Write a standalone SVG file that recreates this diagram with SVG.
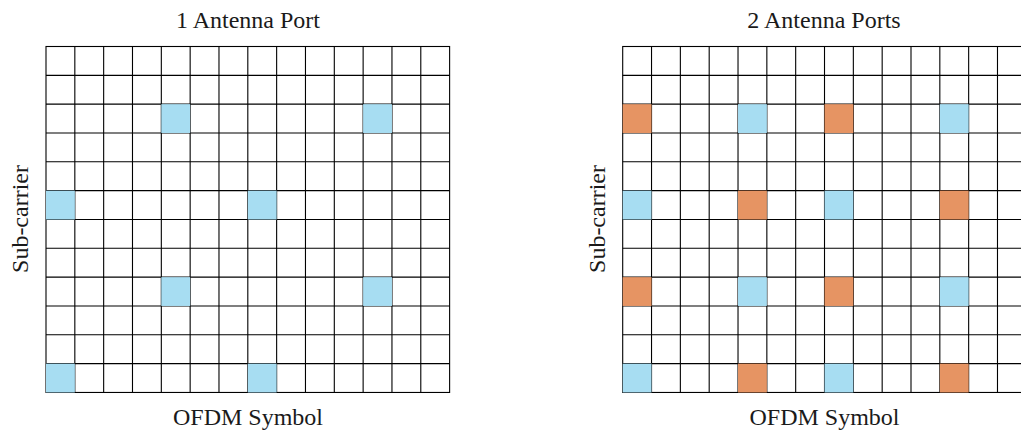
<svg xmlns="http://www.w3.org/2000/svg" xmlns:xlink="http://www.w3.org/1999/xlink" width="1021" height="430" viewBox="0 0 1021 430">
<style>
.lbl{font-family:"Liberation Serif","DejaVu Serif",serif;font-size:24px;fill:#1a1a1a;text-anchor:middle}
.gl{stroke:#000;stroke-width:1.1;fill:none}
.b{fill:#a7ddf2}
.o{fill:#e69463}
</style>
<defs>
<g id="grid">
<rect class="gl" x="0" y="0" width="403.62" height="345.96"/>
<path class="gl" d="M28.83 0V345.96M57.66 0V345.96M86.49 0V345.96M115.32 0V345.96M144.15 0V345.96M172.98 0V345.96M201.81 0V345.96M230.64 0V345.96M259.47 0V345.96M288.3 0V345.96M317.13 0V345.96M345.96 0V345.96M374.79 0V345.96M0 28.83H403.62M0 57.66H403.62M0 86.49H403.62M0 115.32H403.62M0 144.15H403.62M0 172.98H403.62M0 201.81H403.62M0 230.64H403.62M0 259.47H403.62M0 288.3H403.62M0 317.13H403.62"/>
</g>
</defs>
<rect width="1021" height="430" fill="#fff"/>
<g id="panel-1">
<text class="lbl" x="248" y="28">1 Antenna Port</text>
<use xlink:href="#grid" href="#grid" transform="translate(46,46.5)"/>
<g transform="translate(46,46.5)">
<rect class="b" x="115.32" y="57.66" width="28.83" height="28.83"/>
<rect class="b" x="317.13" y="57.66" width="28.83" height="28.83"/>
<rect class="b" x="0" y="144.15" width="28.83" height="28.83"/>
<rect class="b" x="201.81" y="144.15" width="28.83" height="28.83"/>
<rect class="b" x="115.32" y="230.64" width="28.83" height="28.83"/>
<rect class="b" x="317.13" y="230.64" width="28.83" height="28.83"/>
<rect class="b" x="0" y="317.13" width="28.83" height="28.83"/>
<rect class="b" x="201.81" y="317.13" width="28.83" height="28.83"/>
</g>
<text class="lbl" x="248" y="425">OFDM Symbol</text>
<text class="lbl" transform="translate(28,219) rotate(-90)">Sub-carrier</text>
</g>
<g id="panel-2">
<text class="lbl" x="824" y="28">2 Antenna Ports</text>
<use xlink:href="#grid" href="#grid" transform="translate(622.7,46.5)"/>
<g transform="translate(622.7,46.5)">
<rect class="o" x="0" y="57.66" width="28.83" height="28.83"/>
<rect class="b" x="115.32" y="57.66" width="28.83" height="28.83"/>
<rect class="o" x="201.81" y="57.66" width="28.83" height="28.83"/>
<rect class="b" x="317.13" y="57.66" width="28.83" height="28.83"/>
<rect class="b" x="0" y="144.15" width="28.83" height="28.83"/>
<rect class="o" x="115.32" y="144.15" width="28.83" height="28.83"/>
<rect class="b" x="201.81" y="144.15" width="28.83" height="28.83"/>
<rect class="o" x="317.13" y="144.15" width="28.83" height="28.83"/>
<rect class="o" x="0" y="230.64" width="28.83" height="28.83"/>
<rect class="b" x="115.32" y="230.64" width="28.83" height="28.83"/>
<rect class="o" x="201.81" y="230.64" width="28.83" height="28.83"/>
<rect class="b" x="317.13" y="230.64" width="28.83" height="28.83"/>
<rect class="b" x="0" y="317.13" width="28.83" height="28.83"/>
<rect class="o" x="115.32" y="317.13" width="28.83" height="28.83"/>
<rect class="b" x="201.81" y="317.13" width="28.83" height="28.83"/>
<rect class="o" x="317.13" y="317.13" width="28.83" height="28.83"/>
</g>
<text class="lbl" x="824.5" y="425">OFDM Symbol</text>
<text class="lbl" transform="translate(604.5,219) rotate(-90)">Sub-carrier</text>
</g>
</svg>
